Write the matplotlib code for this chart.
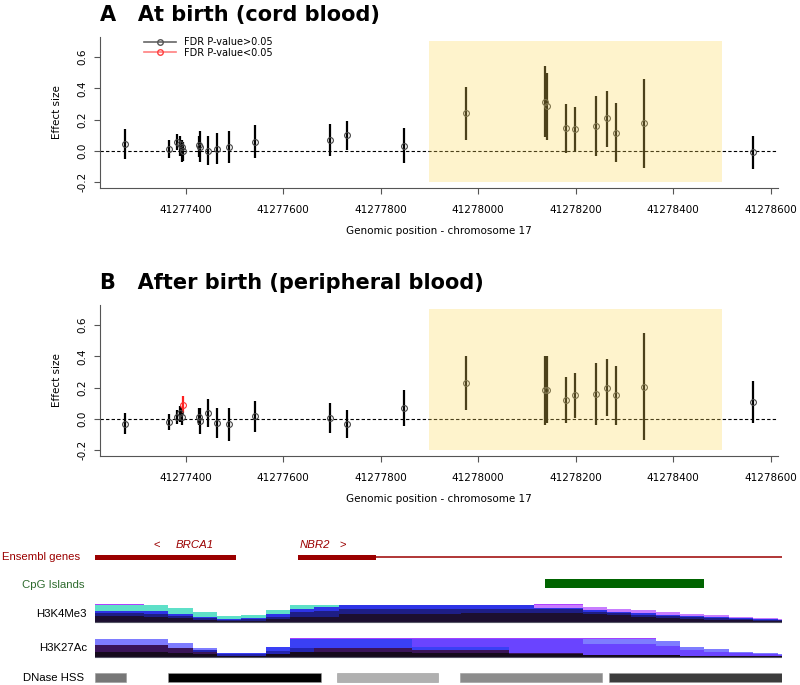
import numpy as np
import matplotlib.pyplot as plt
from matplotlib.lines import Line2D
from matplotlib.patches import Rectangle

# CpG positions on chromosome 17
pos = [41277275, 41277366, 41277382, 41277389, 41277392, 41277395, 41277427, 41277430,
       41277445, 41277464, 41277488, 41277542, 41277695, 41277731, 41277848, 41277975,
       41278136, 41278142, 41278180, 41278198, 41278242, 41278264, 41278282, 41278341,
       41278564]

# A: at birth (cord blood)
effA = [0.045, 0.013, 0.055, 0.045, 0.028, 0.0, 0.04, 0.028, 0.002, 0.015, 0.026, 0.06,
        0.07, 0.10, 0.034, 0.24, 0.315, 0.285, 0.145, 0.14, 0.16, 0.209, 0.117, 0.177, -0.008]
lowA = [-0.05, -0.045, 0.005, -0.03, -0.068, -0.065, -0.035, -0.072, -0.09, -0.085, -0.075,
        -0.045, -0.03, 0.006, -0.079, 0.07, 0.09, 0.07, -0.015, -0.004, -0.032, 0.027,
        -0.072, -0.11, -0.117]
upA = [0.14, 0.07, 0.11, 0.098, 0.07, 0.06, 0.096, 0.128, 0.096, 0.113, 0.126, 0.166, 0.17,
       0.194, 0.149, 0.41, 0.543, 0.5, 0.302, 0.283, 0.35, 0.385, 0.305, 0.46, 0.096]
sigA = [False] * 25

# B: after birth (peripheral blood)
effB = [-0.03, -0.017, 0.015, 0.036, 0.015, 0.09, 0.015, -0.013, 0.04, -0.026, -0.034, 0.017,
        0.006, -0.03, 0.07, 0.23, 0.185, 0.185, 0.123, 0.151, 0.16, 0.2, 0.151, 0.206, 0.11]
lowB = [-0.098, -0.07, -0.03, -0.017, -0.035, 0.036, -0.04, -0.098, -0.051, -0.123, -0.139,
        -0.081, -0.089, -0.119, -0.047, 0.058, -0.038, -0.028, -0.024, 0.008, -0.038, 0.021,
        -0.038, -0.134, -0.024]
upB = [0.036, 0.032, 0.058, 0.083, 0.07, 0.147, 0.07, 0.072, 0.13, 0.072, 0.068, 0.115, 0.1,
       0.058, 0.185, 0.404, 0.403, 0.4, 0.268, 0.294, 0.356, 0.383, 0.339, 0.548, 0.243]
sigB = [False] * 25
sigB[5] = True

region = (41277900, 41278500)
xticks = [41277400, 41277600, 41277800, 41278000, 41278200, 41278400, 41278600]
yticks = [-0.2, 0.0, 0.2, 0.4, 0.6]

# annotation tracks
genes_thick = [(41277214, 41277503), (41277630, 41277790)]
gene_thin = (41277790, 41278623)
cpg_island = (41278137, 41278463)
dnase = [(41277214, 41277278), (41277364, 41277678), (41277710, 41277918),
         (41277963, 41278254), (41278268, 41278623)]
dnase_col = ['#777777', '#000000', '#b0b0b0', '#8c8c8c', '#3c3c3c']

bin_start = 41277214 + 50 * np.arange(29)
# H3K4Me3 layer thickness (fraction of track height) per bin
k4_dark = [0.35, 0.35, 0.31, 0.22, 0.12, 0.08, 0.1, 0.18, 0.3, 0.32, 0.45, 0.45, 0.45, 0.45,
           0.45, 0.5, 0.5, 0.5, 0.5, 0.5, 0.45, 0.38, 0.32, 0.26, 0.2, 0.15, 0.12, 0.08, 0.08]
k4_navy = [0.15, 0.15, 0.16, 0.12, 0.1, 0.06, 0.07, 0.14, 0.25, 0.3, 0.27, 0.27, 0.27, 0.27,
           0.27, 0.25, 0.25, 0.25, 0.22, 0.22, 0.15, 0.12, 0.1, 0.08, 0.08, 0.07, 0.05, 0.04, 0.03]
k4_blue = [0.15, 0.15, 0.17, 0.14, 0.1, 0.06, 0.07, 0.12, 0.2, 0.25, 0.22, 0.22, 0.22, 0.22,
           0.22, 0.19, 0.19, 0.19, 0.1, 0.1, 0.1, 0.1, 0.09, 0.08, 0.07, 0.06, 0.05, 0.04, 0.04]
k4_teal = [0.3, 0.3, 0.3, 0.3, 0.23, 0.16, 0.18, 0.24, 0.2, 0.08, 0, 0, 0, 0, 0, 0, 0, 0, 0,
           0, 0, 0, 0, 0, 0, 0, 0, 0, 0]
k4_lav = [0, 0, 0, 0, 0, 0, 0, 0, 0, 0, 0, 0, 0, 0, 0, 0, 0, 0, 0.15, 0.15, 0.15, 0.15, 0.15,
          0.14, 0.12, 0.1, 0.08, 0.06, 0.05]
k4_line = [0.04, 0.04, 0.04, 0, 0, 0, 0, 0, 0.03, 0.03, 0.03, 0.03, 0.03, 0.03, 0.03, 0.03,
           0.03, 0.03, 0.03, 0.03, 0, 0, 0, 0, 0, 0, 0, 0, 0]

# H3K27Ac layer thickness per bin
k27_black = [0.27, 0.27, 0.27, 0.2, 0.12, 0.06, 0.06, 0.15, 0.25, 0.25, 0.25, 0.25, 0.25, 0.2,
             0.2, 0.2, 0.2, 0.12, 0.12, 0.12, 0.08, 0.08, 0.08, 0.07, 0.06, 0.05, 0.04, 0.03, 0.03]
k27_dpur = [0.35, 0.35, 0.35, 0.25, 0.15, 0, 0, 0, 0, 0.25, 0.25, 0.25, 0.25, 0.15, 0.15, 0.15,
            0.15, 0.08, 0.08, 0.08, 0, 0, 0, 0, 0, 0, 0, 0, 0]
k27_navy = [0, 0, 0, 0, 0.08, 0.06, 0.06, 0.15, 0.2, 0, 0, 0, 0, 0, 0, 0, 0, 0, 0, 0, 0, 0, 0,
            0, 0, 0, 0, 0, 0]
k27_blue = [0, 0, 0, 0, 0, 0.08, 0.1, 0.25, 0.52, 0.47, 0.47, 0.47, 0.47, 0.2, 0.2, 0.2, 0.2, 0,
            0, 0, 0, 0, 0, 0, 0, 0, 0, 0, 0]
k27_violet = [0, 0, 0, 0, 0, 0, 0, 0, 0, 0, 0, 0, 0, 0.42, 0.42, 0.42, 0.42, 0.77, 0.77, 0.77,
              0.6, 0.6, 0.6, 0.5, 0.3, 0.22, 0.15, 0.09, 0.07]
k27_peri = [0.33, 0.33, 0.33, 0.31, 0.15, 0, 0, 0, 0, 0, 0, 0, 0, 0, 0, 0, 0, 0, 0, 0, 0.29, 0.29,
            0.29, 0.28, 0.19, 0.13, 0.09, 0.06, 0.05]
k27_line = [0.03, 0.03, 0.03, 0, 0, 0, 0, 0, 0.03, 0.03, 0.03, 0.03, 0.03, 0.03, 0.03, 0.03,
            0.03, 0.03, 0.03, 0.03, 0.03, 0.03, 0.03, 0, 0, 0, 0, 0, 0]

W, H = 800, 685
fig = plt.figure(figsize=(8, 6.85), dpi=100)


def panel(rect, eff, low, up, sig, title, title_y, legend=False):
    ax = fig.add_axes(rect)
    for x, e, l, u, s in zip(pos, eff, low, up, sig):
        c = '#ff2020' if s else 'black'
        mc = '#ff3030' if s else '#444444'
        ax.plot([x, x], [l, u], color=c, lw=1.6, solid_capstyle='butt', zorder=2)
        ax.plot(x, e, 'o', mfc='none', mec=mc, ms=4.2, mew=0.8, zorder=3)
    ax.axhline(0, color='black', ls=(0, (3, 2)), lw=0.8, zorder=1)
    ax.add_patch(Rectangle((region[0], -0.2), region[1] - region[0], 0.9,
                           facecolor=(0.99, 0.85, 0.34), alpha=0.3, lw=0, zorder=5))
    ax.set_xlim(41277224, 41278615)
    ax.set_ylim(-0.236, 0.728)
    ax.set_xticks(xticks)
    ax.set_xticklabels([str(t) for t in xticks], fontsize=7.5)
    ax.set_yticks(yticks)
    ax.set_yticklabels(['-0.2', '0.0', '0.2', '0.4', '0.6'], fontsize=7.5,
                       rotation=90, va='center')
    for s in ['top', 'right']:
        ax.spines[s].set_visible(False)
    for s in ['left', 'bottom']:
        ax.spines[s].set_color('#555555')
        ax.spines[s].set_linewidth(0.8)
    ax.tick_params(length=4, width=0.8, color='#555555')
    ax.tick_params(axis='x', pad=8)
    ax.tick_params(axis='y', pad=5)
    ax.set_ylabel('Effect size', fontsize=7.5, labelpad=11)
    ax.set_xlabel('Genomic position - chromosome 17', fontsize=7.5, labelpad=8)
    fig.text(100 / W, 1 - title_y / H, title, fontsize=15, fontweight='bold', va='center')
    if legend:
        handles = [Line2D([], [], color='#666666', marker='o', mfc='none', mec='#555555',
                          ms=4, lw=1.2),
                   Line2D([], [], color='#ff8080', marker='o', mfc='none', mec='#ff4040',
                          ms=4, lw=1.2)]
        ax.legend(handles, ['FDR P-value>0.05', 'FDR P-value<0.05'], loc='upper left',
                  bbox_to_anchor=(40 / 678, 1.025), frameon=False, fontsize=7,
                  handlelength=3.3, handletextpad=0.8, labelspacing=0.05, borderaxespad=0)
    return ax


panel([100 / W, 1 - 188 / H, 678 / W, 151 / H], effA, lowA, upA, sigA,
      'A   At birth (cord blood)', 15, legend=True)
panel([100 / W, 1 - 456 / H, 678 / W, 151 / H], effB, lowB, upB, sigB,
      'B   After birth (peripheral blood)', 283)

# annotation tracks (y in px from figure bottom)
tr = fig.add_axes([95 / W, 0, 687 / W, 155 / H])
tr.set_xlim(41277214, 41278623)
tr.set_ylim(0, 155)
tr.axis('off')

red = '#9b0000'
for a, b in genes_thick:
    tr.add_patch(Rectangle((a, 125), b - a, 5.5, facecolor=red, lw=0))
tr.plot(gene_thin, [127.7, 127.7], color=red, lw=1.1, solid_capstyle='butt')
gfont = dict(color=red, fontsize=8.2, va='center', family='Liberation Sans')
tr.text(41277340, 140, '<', ha='center', **gfont)
tr.text(41277419, 140, 'BRCA1', ha='center', style='italic', **gfont)
tr.text(41277665, 140, 'NBR2', ha='center', style='italic', **gfont)
tr.text(41277723, 140, '>', ha='center', **gfont)

tr.add_patch(Rectangle((cpg_island[0], 97), cpg_island[1] - cpg_island[0], 9,
                       facecolor='#006400', lw=0))


def histone(base, h, layers):
    cum = np.zeros(len(bin_start))
    for vals, col in layers:
        v = np.array(vals)
        tr.bar(bin_start, v * h, bottom=base + cum * h, width=50, align='edge',
               color=col, lw=0)
        cum = cum + v


histone(62.7, 18, [(k4_dark, '#1c0f30'), (k4_navy, '#1e1e86'), (k4_blue, '#2e34e6'),
                   (k4_teal, '#5ee0c8'), (k4_lav, '#c77cff'), (k4_line, '#b040ff')])
tr.plot([41277214, 41278623], [62.7, 62.7], color='#555566', lw=0.8)
histone(28.3, 18.4, [(k27_black, '#150a1c'), (k27_dpur, '#3a1458'), (k27_navy, '#2424b0'),
                     (k27_blue, '#3a40f5'), (k27_violet, '#6a44ff'), (k27_peri, '#7e7cff'),
                     (k27_line, '#a040ff')])
tr.plot([41277214, 41278623], [28.3, 28.3], color='#555566', lw=0.8)

for (a, b), c in zip(dnase, dnase_col):
    tr.add_patch(Rectangle((a, 3), b - a, 9, facecolor=c, edgecolor='#999999', lw=0.4))

labels = [('Ensembl genes', 80, 557, red), ('CpG Islands', 84, 585, '#2e6b2e'),
          ('H3K4Me3', 87, 614, 'black'), ('H3K27Ac', 87, 648, 'black'),
          ('DNase HSS', 84, 678, 'black')]
for txt, x, y, c in labels:
    fig.text(x / W, 1 - y / H, txt, color=c, fontsize=8.2, ha='right', va='center',
             family='Liberation Sans')

fig.savefig('out.png', dpi=100)
